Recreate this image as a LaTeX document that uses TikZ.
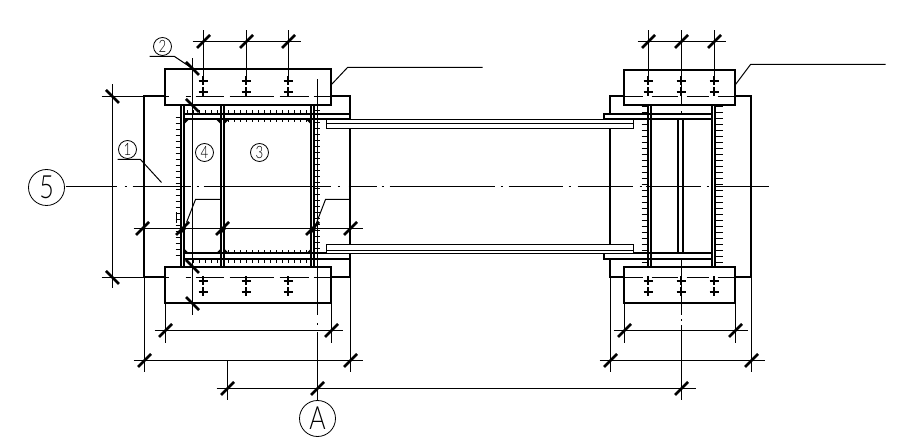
\documentclass[tikz,border=0pt]{standalone}
\usepackage{fontspec}
\setmainfont{Liberation Sans}
\newfontfamily\cadfont{Lato Light}[FakeStretch=0.78]
\usetikzlibrary{calc,positioning}

\begin{document}
\begin{tikzpicture}[x=1pt,y=-1pt,
  heavy/.style={line width=2pt,line join=miter},
  medium/.style={line width=1pt},
  thin line/.style={line width=1pt},
  weld/.style={line width=1pt},
  slash/.style={line width=2.8pt},
  bolt/.style={line width=2pt},
  tag/.style={circle,draw,line width=.8pt,inner sep=0pt,minimum size=18pt,font=\cadfont\fontsize{17}{17}\selectfont},
  axistag/.style={circle,draw,line width=.8pt,inner sep=0pt,minimum size=36pt,font=\cadfont\fontsize{32}{32}\selectfont}]
  \useasboundingbox (-.5,-.5) rectangle (902.5,445.5);

  % back plates
  \draw[heavy] (164.5,95.5) -- (143.5,95.5) -- (143.5,276.5) -- (164.5,276.5);
  \draw[heavy] (330.5,95.5) -- (349.5,95.5) -- (349.5,276.5) -- (330.5,276.5);
  \draw[heavy] (623.5,95.5) -- (609.5,95.5) -- (609.5,276.5) -- (623.5,276.5);
  \draw[heavy] (734.5,95.5) -- (750.5,95.5) -- (750.5,276.5) -- (734.5,276.5);

  % welds
  \foreach \y in {117,123,...,255} \draw[weld] (175,\y) -- (180,\y);
  \foreach \y in {110,116,...,250} \draw[weld] (313,\y) -- (319,\y);
  \foreach \y in {106,112,...,264} {
    \draw[weld] (641,\y) -- (647,\y);
    \draw[weld] (715,\y) -- (722,\y);
  }
  \foreach \x in {187,193,...,220} {
    \draw[weld] (\x,110) -- (\x,114);
    \draw[weld] (\x,259) -- (\x,263);
  }
  \foreach \x in {228,234,...,308} {
    \draw[weld] (\x,110) -- (\x,114);
    \draw[weld] (\x,119) -- (\x,122);
    \draw[weld] (\x,250) -- (\x,253);
    \draw[weld] (\x,259) -- (\x,263);
  }

  % flanges
  \draw[heavy,fill=white] (183.5,113.5) rectangle (349.5,118.5);
  \draw[heavy,fill=white] (183.5,252.5) rectangle (349.5,258.5);
  \draw[heavy,fill=white] (603.5,113.5) rectangle (711.5,118.5);
  \draw[heavy,fill=white] (603.5,252.5) rectangle (711.5,258.5);

  % beams
  \foreach \ya/\yb/\yc in {119/123/128,244/250/253} {
    \draw[medium,fill=white] (326,\ya) rectangle (633,\yc);
    \draw[medium] (326,\yb) -- (633,\yb);
  }

  % columns
  \foreach \x in {180.5,183.5,220.5,223.5,310.5,313.5,647.5,650.5,711.5,714.5}
    \draw[heavy] (\x,105) -- (\x,267);
  \draw[heavy] (677.5,119) -- (677.5,253);
  \draw[heavy] (682.5,119) -- (682.5,253);

  % gussets
  \foreach \x/\s in {183.5/1,220.5/-1,223.5/1,310.5/-1} {
    \fill (\x,119) -- ++(5*\s,0) -- (\x,124) -- cycle;
    \fill (\x,253) -- ++(5*\s,0) -- (\x,248) -- cycle;
  }

  % plates
  \draw[heavy] (164.5,68.5) rectangle (330.5,104.5);
  \draw[heavy] (164.5,266.5) rectangle (330.5,302.5);
  \draw[heavy] (623.5,69.5) rectangle (734.5,104.5);
  \draw[heavy] (623.5,266.5) rectangle (734.5,302.5);

  % bolt lines
  \foreach \xa/\xb in {185/190,195/223,229/273,279/308,313/331,165/168} {
    \draw[thin line] (\xa,96) -- (\xb,96);
    \draw[thin line] (\xa,277) -- (\xb,277);
  }
  \foreach \xa/\xb in {624/642,651/677,686/708,717/735} {
    \draw[thin line] (\xa,96) -- (\xb,96);
    \draw[thin line] (\xa,277) -- (\xb,277);
  }

  % bolts
  \foreach \x in {203,246,288,648,681,714}
    \foreach \y in {81,92,281,292} {
      \draw[bolt] (\x-5,\y-.5) -- (\x+4,\y-.5);
      \draw[bolt] (\x-.5,\y-5) -- (\x-.5,\y+4);
    }

  % centre lines
  \foreach \xa/\xb in {65/116,124/126,132/190,196/198,203/330,337/339,348/376,381/383,389/494,500/502,508/562,568/570,577/632,639/641,645/700,706/708,714/768}
    \draw[thin line] (\xa,186) -- (\xb,186);
  \draw[thin line] (317,79) -- (317,315);
  \draw[thin line] (317,323) -- (317,325);
  \draw[thin line] (317,332) -- (317,400);
  \draw[thin line] (681,30) -- (681,105);
  \draw[thin line] (681,111) -- (681,113);
  \draw[thin line] (681,258) -- (681,315);
  \draw[thin line] (681,319) -- (681,321);
  \draw[thin line] (681,325) -- (681,400);

  % dimension lines
  \draw[thin line] (192,41) -- (300,41);
  \draw[thin line] (637,41) -- (725,41);
  \draw[thin line] (101,96) -- (144,96);
  \draw[thin line] (101,277) -- (144,277);
  \draw[thin line] (112,84) -- (112,288);
  \draw[thin line] (192,58) -- (192,315);
  \draw[thin line] (133,228) -- (362,228);
  \draw[thin line] (154,330) -- (342,330);
  \draw[thin line] (133,360) -- (362,360);
  \draw[thin line] (216,388) -- (695,388);
  \draw[thin line] (613,330) -- (747,330);
  \draw[thin line] (599,360) -- (764,360);
  \foreach \x in {203,246,288,648,714} \draw[thin line] (\x,30) -- (\x,78);
  \foreach \x in {165,331,624,735} \draw[thin line] (\x,303) -- (\x,343);
  \foreach \x in {144,350,610,751} \draw[thin line] (\x,277) -- (\x,372);
  \draw[thin line] (227,360) -- (227,400);

  % ticks
  \foreach \x/\y in {203/41,246/41,288/41,648/41,681/41,714/41,142/228,182/228,222/228,312/228,350/228,165/330,331/330,624/330,735/330,144/360,350/360,610/360,751/360,227/388,317/388,681/388}
    \draw[slash] (\x,\y) ++(-6.5,6.5) -- ++(13,-13);
  \foreach \x/\y in {112/96,112/277,192/68,192/105,192/266,192/303}
    \draw[slash] (\x,\y) ++(-6.5,-6.5) -- ++(13,13);
  \foreach \x in {182,222,312}
    \draw[slash] (\x,228) ++(-3,5) -- ++(6,-6);

  % tags
  \node[axistag] (axis5) at (46,187) {5};
  \node[axistag] (axisA) at (317,418) {A};
  \node[tag] (tag2) at (162,46) {2};
  \node[tag] (tag1) at (127,149) {1};
  \node[tag] (tag4) at (204,152) {4};
  \node[tag] (tag3) at (259,152) {3};

  % leaders
  \draw[thin line] (149,56) -- (174,56) -- (192,68);
  \draw[thin line] (117,159) -- (140,159) -- (161,182);
  \draw[thin line] (186,222) -- (195,199) -- (221,199);
  \draw[thin line] (315,225) -- (325,199) -- (350,199);
  \draw[thin line] (331,84) -- (347,67) -- (482,67);
  \draw[thin line] (735,84) -- (750,64) -- (885,64);
  \draw[thin line] (176,212) -- (176,223);
\end{tikzpicture}
\end{document}
